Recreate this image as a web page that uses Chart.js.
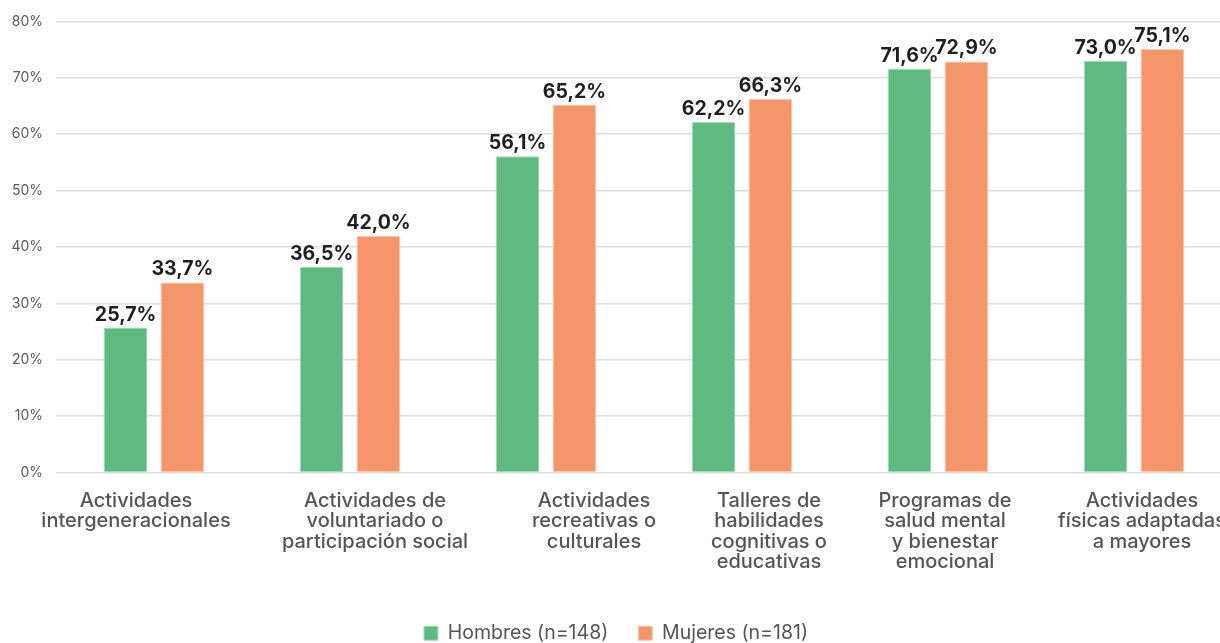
<!DOCTYPE html>
<html>
<head>
<meta charset="utf-8">
<script src="https://cdn.jsdelivr.net/npm/chart.js@4"></script>
<style>
 html, body { margin:0; padding:0; background:#fff; overflow:hidden; }
 #wrap { width:1236px; height:653px; position:relative; }
</style>
</head>
<body>
<div id="wrap"><canvas id="grafico"></canvas></div>
<script>
// datos
const categorias = [
 ["Actividades", "intergeneracionales"],
 ["Actividades de", "voluntariado o", "participación social"],
 ["Actividades", "recreativas o", "culturales"],
 ["Talleres de", "habilidades", "cognitivas o", "educativas"],
 ["Programas de", "salud mental", "y bienestar", "emocional"],
 ["Actividades", "físicas adaptadas", "a mayores"]
];
const hombres = [25.7, 36.5, 56.1, 62.2, 71.6, 73.0];
const mujeres = [33.7, 42.0, 65.2, 66.3, 72.9, 75.1];
const serieNombres = ["Hombres (n=148)", "Mujeres (n=181)"];
const ejeMax = 80;
const ejePaso = 10;

const FUENTE = "Inter, 'Noto Sans', sans-serif";

// el original no centra los rotulos bajo cada grupo, se corren un poco
const corrimientoRotulos = [-18, 25, 48, 27, 7, 8];

// etiquetas encima de cada barra
const etiquetasBarras = {
 id: "etiquetasBarras",
 afterDatasetsDraw(chart){
  const ctx = chart.ctx;
  ctx.save();
  ctx.font = "bold 19.5px " + FUENTE;
  ctx.fillStyle = "#1f1f1f";
  ctx.textAlign = "center";
  ctx.textBaseline = "alphabetic";
  chart.data.datasets.forEach((ds, i) => {
   chart.getDatasetMeta(i).data.forEach((bar, j) => {
    const txt = ds.data[j].toFixed(1).replace(".", ",") + "%";
    ctx.fillText(txt, bar.x, bar.y - 7);
   });
  });
  ctx.restore();
 }
};

// rotulos del eje x (dibujados aparte para poder correrlos)
const rotulosEjeX = {
 id: "rotulosEjeX",
 afterDraw(chart){
  const ctx = chart.ctx;
  const x = chart.scales.x;
  ctx.save();
  ctx.font = "500 20px " + FUENTE;
  ctx.fillStyle = "#555";
  ctx.textAlign = "center";
  ctx.textBaseline = "alphabetic";
  chart.data.labels.forEach((lineas, i) => {
   const px = x.getPixelForTick(i) + corrimientoRotulos[i];
   lineas.forEach((l, k) => {
    ctx.fillText(l, px, chart.chartArea.bottom + 34 + k * 20.5);
   });
  });
  ctx.restore();
 }
};

new Chart(document.getElementById("grafico"), {
 type: "bar",
 data: {
  labels: categorias,
  datasets: [
   { label: serieNombres[0], data: hombres, backgroundColor: "#5fba81", borderColor: "#a9dcba", borderWidth: 1 },
   { label: serieNombres[1], data: mujeres, backgroundColor: "#f4956a", borderColor: "#f9c8b0", borderWidth: 1 }
  ]
 },
 options: {
  responsive: true,
  maintainAspectRatio: false,
  animation: false,
  layout: { padding: { top: 9, left: 0, right: 4, bottom: 0 } },
  datasets: { bar: { categoryPercentage: 0.58, barPercentage: 0.77 } },
  scales: {
   y: {
    min: 0, max: ejeMax,
    ticks: {
     stepSize: ejePaso,
     padding: 13,
     color: "#5a5a5a",
     font: { family: FUENTE, size: 14 },
     callback: v => v + "%"
    },
    grid: { color: "#dedede", lineWidth: 1.5, drawTicks: false },
    border: { display: false },
    afterFit: s => { s.width = 56; }
   },
   x: {
    grid: { display: false },
    border: { display: false },
    ticks: { display: false },
    afterFit: s => { s.height = 121; }
   }
  },
  plugins: {
   legend: {
    position: "bottom",
    labels: {
     color: "#555",
     font: { family: FUENTE, size: 19.5 },
     boxWidth: 14, boxHeight: 14,
     padding: 30
    }
   },
   tooltip: { enabled: false }
  }
 },
 plugins: [etiquetasBarras, rotulosEjeX]
});
</script>
</body>
</html>
